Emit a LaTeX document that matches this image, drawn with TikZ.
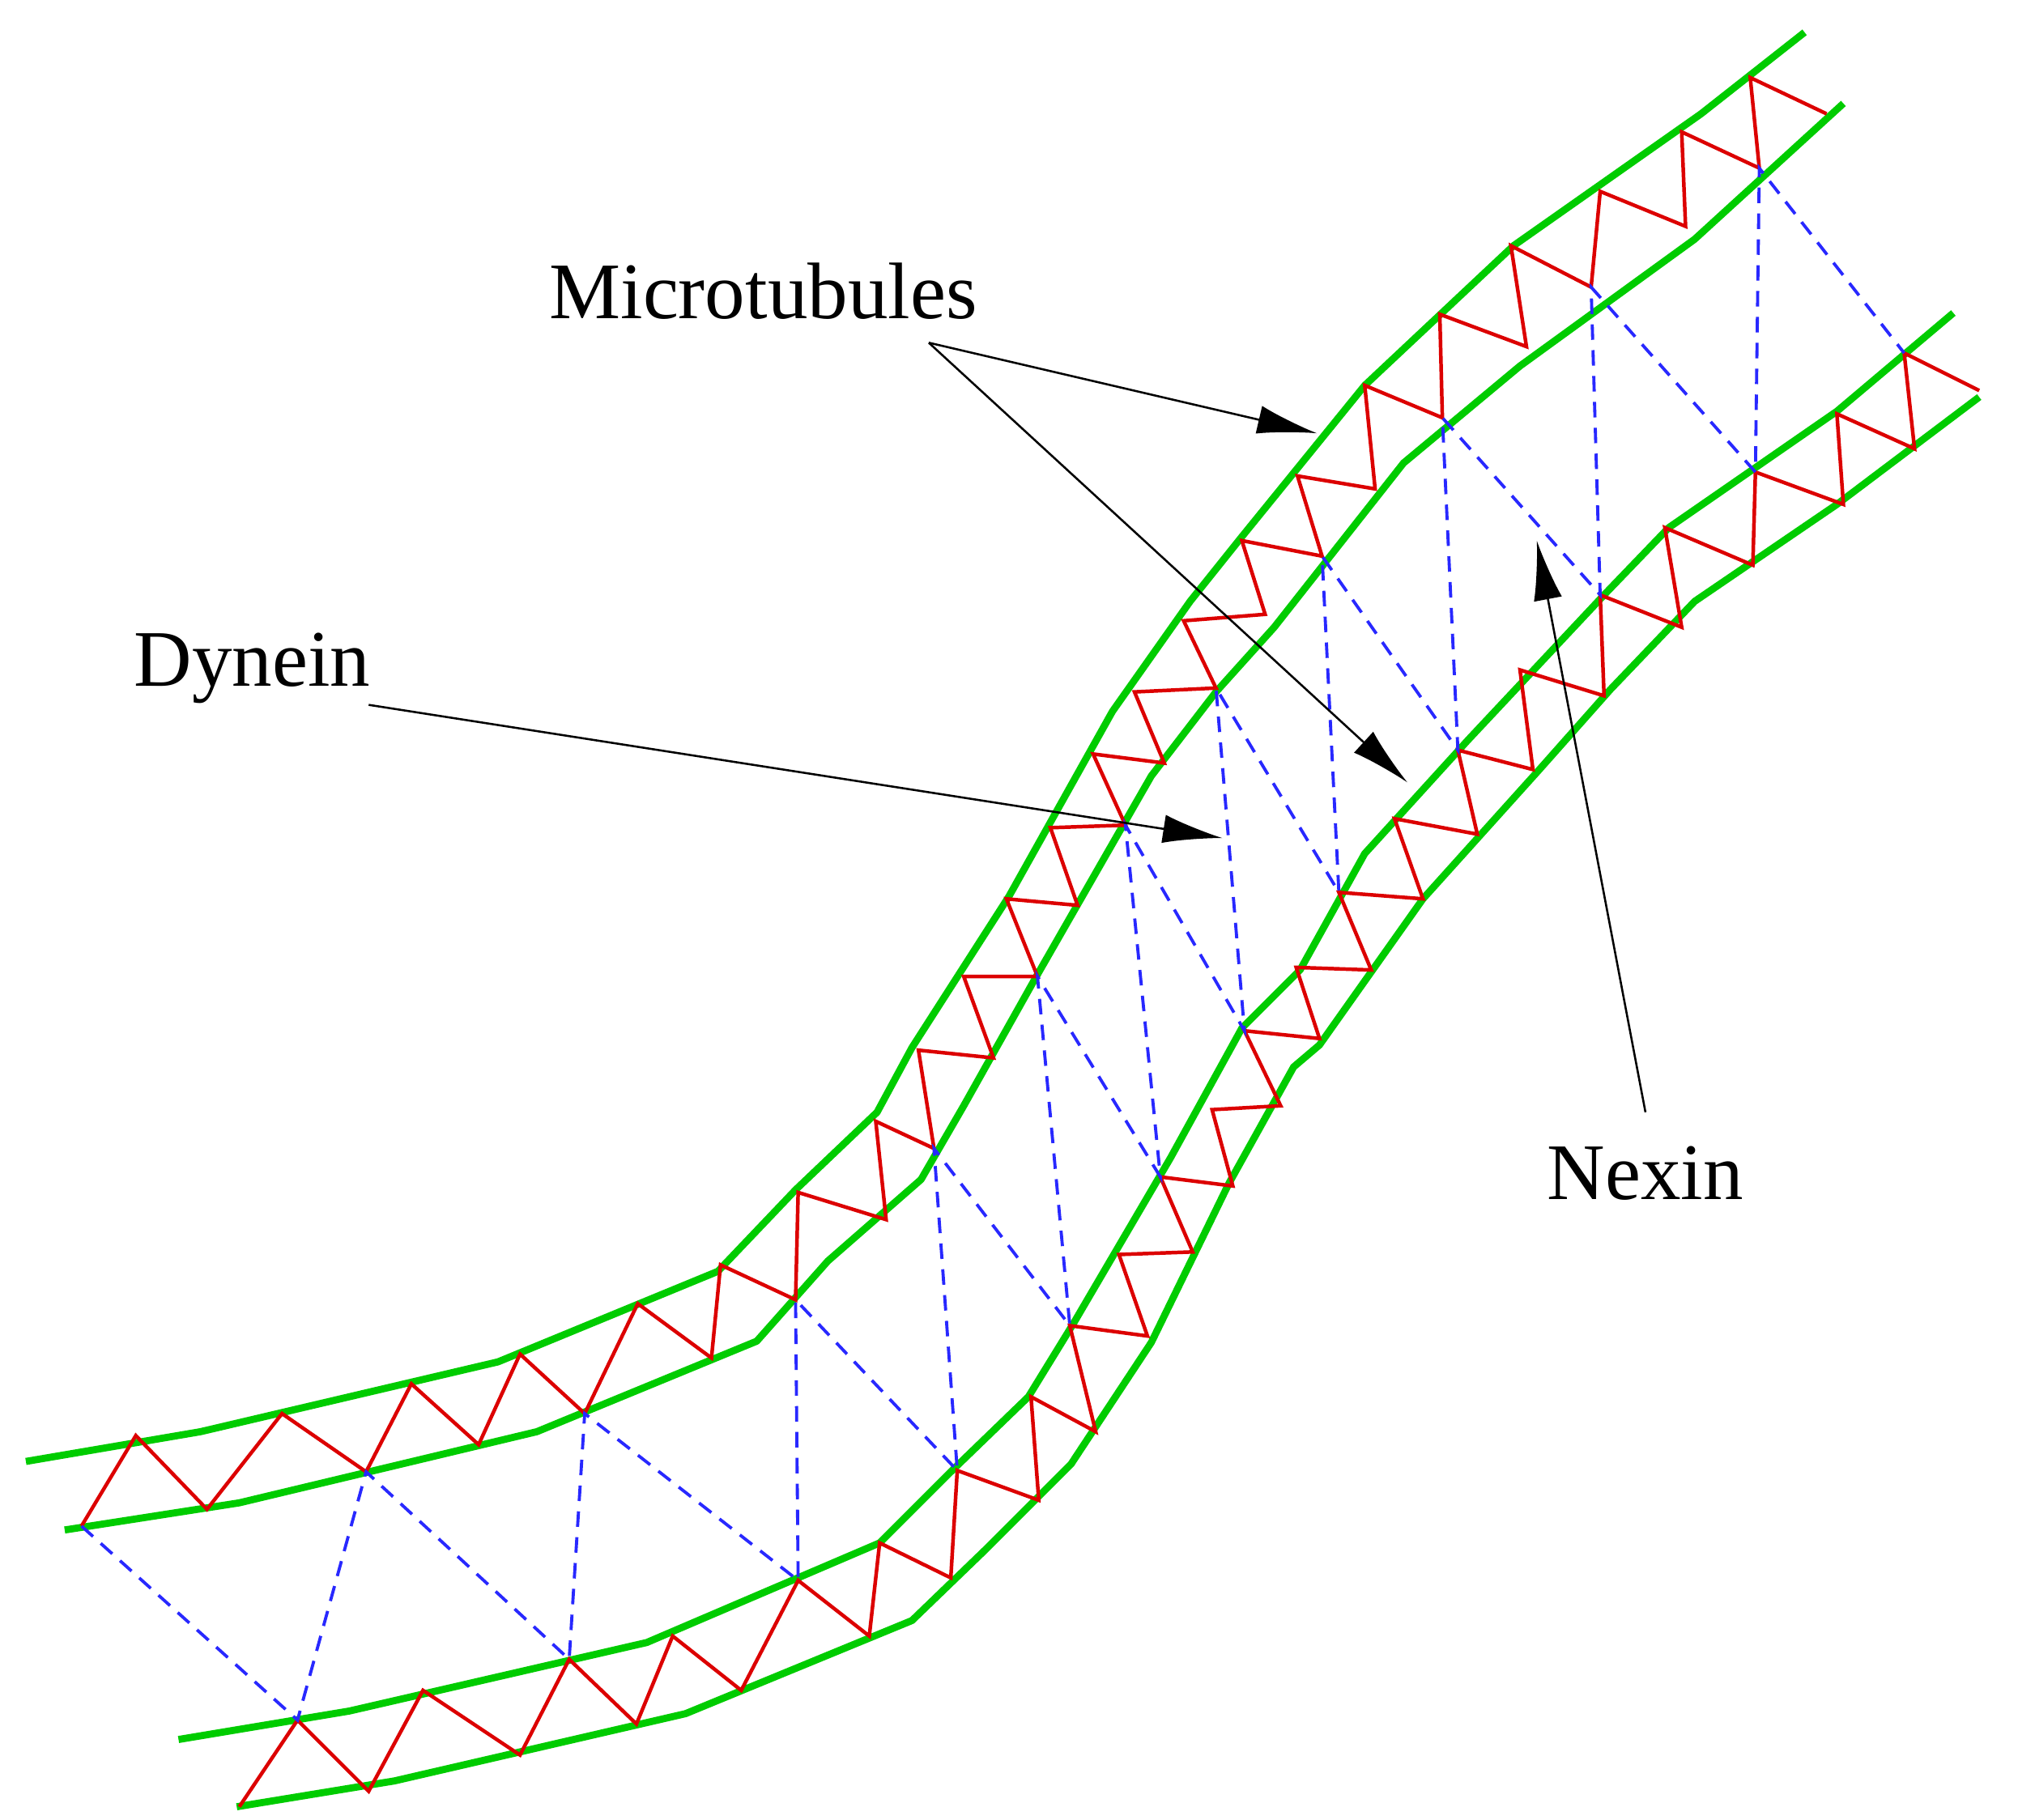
\documentclass[tikz,border=0pt]{standalone}
\usepackage{fontspec}
\setmainfont{Liberation Serif}
\usetikzlibrary{arrows.meta}
\begin{document}
\begin{tikzpicture}[x=1pt,y=-1pt,
  tube/.style={draw={rgb,255:red,0;green,204;blue,0},line width=5.5pt,line join=round},
  zig/.style={draw={rgb,255:red,220;green,0;blue,0},line width=2.8pt,line join=miter},
  nex/.style={draw={rgb,255:red,40;green,40;blue,255},line width=2.4pt,dash pattern=on 12pt off 8pt},
  lbl/.style={font=\fontsize{62}{74}\selectfont,inner sep=0pt},
  ptr/.style={line width=1.6pt,-{Latex[length=46pt,width=22pt]}}]
\useasboundingbox (0,0) rectangle (1560,1407);
% upper tube
\draw[tube] (20,1130)--(155,1107)--(385,1053)--(555,983)--(615,920)--(678,860)--(705,810)--(780,693)--(860,550)--(920,465)--(960,415)--(1055,298)--(1170,190)--(1315,88)--(1395,25);
\draw[tube] (50,1183)--(185,1162)--(415,1107)--(585,1037)--(640,975)--(712,912)--(745,855)--(800,757)--(890,600)--(940,535)--(985,485)--(1085,358)--(1175,283)--(1310,185)--(1425,80);
\draw[zig] (63,1180)--(105,1110)--(160,1167)--(218,1093)--(283,1138)--(318,1070)--(370,1117)--(402,1047)--(452,1093)--(493,1008)--(550,1050)--(557,978)--(615,1005)--(617,922)--(685,943)--(677,867)--(722,888)--(710,812)--(768,818)--(745,755)--(802,755)--(778,695)--(833,700)--(812,640)--(870,638)--(845,583)--(900,590)--(877,535)--(940,532)--(915,480)--(978,475)--(960,418)--(1022,430)--(1003,368)--(1063,378)--(1055,298)--(1115,323)--(1113,243)--(1180,268)--(1168,190)--(1230,222)--(1237,148)--(1303,175)--(1300,102)--(1360,130)--(1353,60)--(1412,88);
% lower tube
\draw[tube] (138,1345)--(270,1323)--(500,1270)--(680,1193)--(735,1138)--(795,1080)--(830,1023)--(905,895)--(960,795)--(1005,750)--(1055,660)--(1135,572)--(1240,460)--(1290,408)--(1420,318)--(1510,242);
\draw[tube] (183,1397)--(305,1377)--(530,1325)--(705,1253)--(762,1198)--(828,1132)--(890,1038)--(950,915)--(1000,825)--(1020,808)--(1100,695)--(1190,595)--(1245,533)--(1310,465)--(1420,390)--(1530,307);
\draw[zig] (185,1397)--(230,1330)--(285,1385)--(327,1307)--(402,1357)--(440,1283)--(492,1333)--(520,1265)--(573,1307)--(617,1222)--(672,1265)--(680,1193)--(735,1220)--(740,1137)--(803,1160)--(797,1080)--(847,1107)--(827,1025)--(887,1033)--(865,970)--(922,968)--(897,910)--(953,917)--(937,858)--(990,855)--(962,797)--(1020,803)--(1002,748)--(1060,750)--(1035,690)--(1100,695)--(1078,633)--(1142,645)--(1127,580)--(1185,595)--(1175,518)--(1240,538)--(1237,460)--(1300,485)--(1287,408)--(1355,437)--(1357,365)--(1425,390)--(1420,320)--(1480,347)--(1472,273)--(1530,302);
% nexin links
\draw[nex] (63,1180)--(230,1330)--(283,1138)--(440,1283)--(452,1093)--(617,1222)--(615,1005)--(740,1137)--(722,888)--(827,1025)--(802,755)--(897,910)--(870,638)--(962,797)--(940,532)--(1035,690)--(1022,430)--(1127,580)--(1115,323)--(1237,460)--(1230,222)--(1357,365)--(1360,130)--(1472,273);
% labels
\node[lbl] (micro) at (590,225) {Microtubules};
\node[lbl] (dyn) at (195,517) {Dynein};
\node[lbl] (nexl) at (1272,907) {Nexin};
\coordinate (mA) at (718,265);
\coordinate (mt1) at (1018,335);
\coordinate (mt2) at (1088,605);
\coordinate (dA) at (285,545);
\coordinate (dt) at (945,648);
\coordinate (nA) at (1272,860);
\coordinate (nt) at (1188,418);
\draw[ptr] (mA)--(mt1);
\draw[ptr] (mA)--(mt2);
\draw[ptr] (dA)--(dt);
\draw[ptr] (nA)--(nt);
\end{tikzpicture}
\end{document}
